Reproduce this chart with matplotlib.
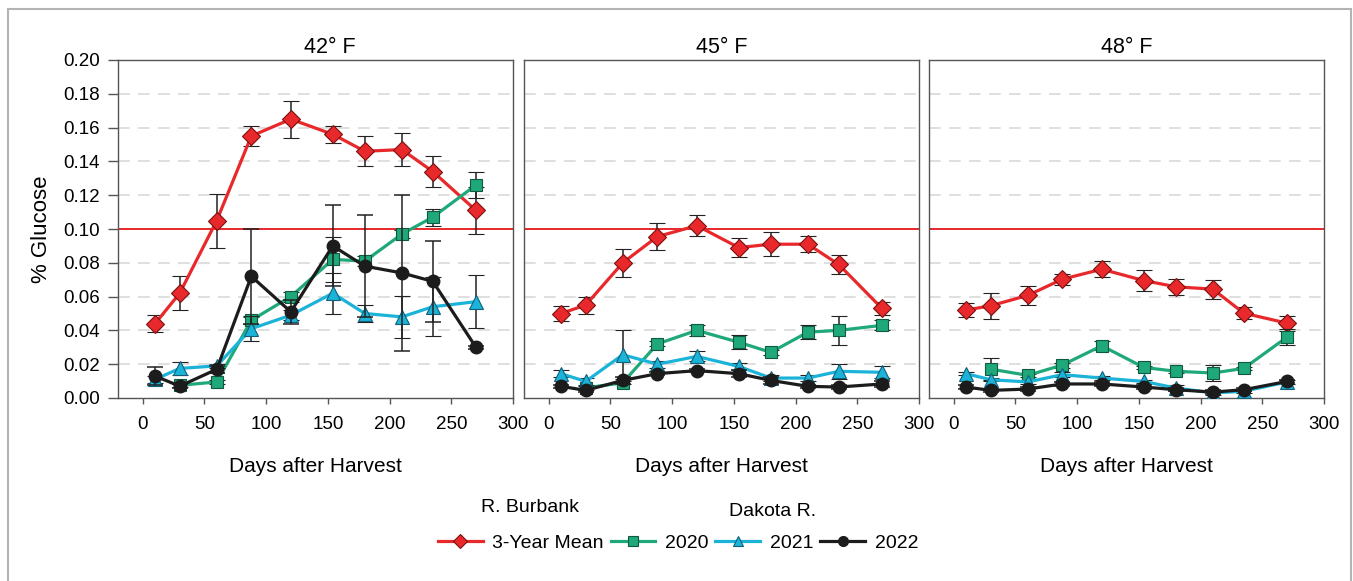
import matplotlib.pyplot as plt
from matplotlib.lines import Line2D
from matplotlib.patches import Rectangle

plt.rcParams['font.family'] = ['Liberation Sans', 'DejaVu Sans']

# Days after harvest (2020 has no day-10 sample)
days = [10, 30, 60, 88, 120, 154, 180, 210, 235, 270]
days_2020 = [30, 60, 88, 120, 154, 180, 210, 235, 270]

temps = ['42° F', '45° F', '48° F']

# 42 F
mean_42 = [0.044, 0.062, 0.105, 0.155, 0.165, 0.156, 0.146, 0.147, 0.134, 0.111]
mean_42_err = [0.005, 0.010, 0.016, 0.006, 0.011, 0.005, 0.009, 0.010, 0.009, 0.014]
y2020_42 = [0.0075, 0.0095, 0.046, 0.060, 0.082, 0.081, 0.097, 0.107, 0.126]
y2020_42_err = [0.001, 0.001, 0.002, 0.003, 0.0135, 0.003, 0.0025, 0.005, 0.0075]
y2021_42 = [0.011, 0.0175, 0.019, 0.041, 0.049, 0.062, 0.050, 0.048, 0.054, 0.057]
y2021_42_err = [0.002, 0.004, 0.001, 0.0075, 0.003, 0.012, 0.005, 0.0125, 0.0175, 0.0155]
y2022_42 = [0.013, 0.007, 0.017, 0.072, 0.051, 0.090, 0.078, 0.074, 0.069, 0.030]
y2022_42_err = [0.0055, 0.001, 0.002, 0.028, 0.007, 0.024, 0.030, 0.046, 0.024, 0.001]

# 45 F
mean_45 = [0.050, 0.055, 0.080, 0.0955, 0.102, 0.089, 0.091, 0.091, 0.079, 0.053]
mean_45_err = [0.0045, 0.005, 0.0083, 0.008, 0.006, 0.0057, 0.007, 0.0047, 0.0054, 0.004]
y2020_45 = [0.006, 0.009, 0.032, 0.040, 0.033, 0.027, 0.039, 0.040, 0.043]
y2020_45_err = [0.001, 0.001, 0.0015, 0.0034, 0.0043, 0.0015, 0.0043, 0.0087, 0.003]
y2021_45 = [0.0144, 0.0098, 0.0256, 0.020, 0.0246, 0.0187, 0.0118, 0.0118, 0.0158, 0.0152]
y2021_45_err = [0.002, 0.002, 0.0144, 0.002, 0.003, 0.002, 0.002, 0.002, 0.0043, 0.0035]
y2022_45 = [0.0069, 0.0045, 0.0104, 0.0144, 0.0162, 0.0144, 0.0104, 0.0069, 0.0065, 0.0083]
y2022_45_err = [0.001, 0.001, 0.002, 0.001, 0.001, 0.002, 0.002, 0.001, 0.001, 0.002]

# 48 F
mean_48 = [0.052, 0.0546, 0.0607, 0.0703, 0.0762, 0.0695, 0.0658, 0.0644, 0.0502, 0.0443]
mean_48_err = [0.0043, 0.0078, 0.0057, 0.0033, 0.0047, 0.006, 0.0048, 0.0057, 0.0035, 0.0045]
y2020_48 = [0.0171, 0.0134, 0.0195, 0.0309, 0.0181, 0.0158, 0.0148, 0.0175, 0.036]
y2020_48_err = [0.0065, 0.001, 0.0015, 0.0027, 0.001, 0.001, 0.0045, 0.001, 0.0046]
y2021_48 = [0.0144, 0.0108, 0.0095, 0.0138, 0.0118, 0.0098, 0.0059, 0.003, 0.004, 0.0095]
y2021_48_err = [0.001, 0.001, 0.001, 0.0015, 0.001, 0.001, 0.0015, 0.001, 0.001, 0.001]
y2022_48 = [0.0065, 0.0045, 0.0053, 0.0083, 0.0083, 0.0065, 0.0049, 0.0035, 0.0049, 0.0098]
y2022_48_err = [0.001, 0.001, 0.001, 0.001, 0.001, 0.001, 0.001, 0.001, 0.001, 0.001]

panels = [
    (mean_42, mean_42_err, y2020_42, y2020_42_err, y2021_42, y2021_42_err, y2022_42, y2022_42_err),
    (mean_45, mean_45_err, y2020_45, y2020_45_err, y2021_45, y2021_45_err, y2022_45, y2022_45_err),
    (mean_48, mean_48_err, y2020_48, y2020_48_err, y2021_48, y2021_48_err, y2022_48, y2022_48_err),
]

red = '#e8282b'
green = '#1fa87a'
blue = '#1bb3d8'
black = '#1c1c1c'
spine_col = '#555555'

fig = plt.figure(figsize=(13.53, 5.81), dpi=100)
fig.patches.append(Rectangle((8 / 1353, -0.02), 1343 / 1353, 1.0 - 9 / 581 + 0.02,
                             transform=fig.transFigure, fill=False,
                             edgecolor='#b4b4b4', linewidth=1.5))

lefts = [118 / 1353, 524 / 1353, 929 / 1353]
width = 395 / 1353
bottom = 183 / 581
height = 338 / 581
title_x = [0.537, 0.5, 0.5]

for i, (m, me, g, ge, b, be, k, ke) in enumerate(panels):
    ax = fig.add_axes([lefts[i], bottom, width, height])
    ax.set_xlim(-20, 300)
    ax.set_ylim(0, 0.20)
    for yv in [0.02, 0.04, 0.06, 0.08, 0.12, 0.14, 0.16, 0.18]:
        ax.axhline(yv, color='#d9d9d9', linewidth=1.2, dashes=(7, 5), zorder=0)
    ax.axhline(0.10, color=red, linewidth=1.4, zorder=1)

    eb = dict(ecolor='#222222', elinewidth=1.1, capsize=6, capthick=1.1)
    ax.errorbar(days, m, yerr=me, color=red, lw=2.3, marker='D', ms=9.5,
                mfc=red, mec='#7a1010', mew=0.8, zorder=3, **eb)
    ax.errorbar(days_2020, g, yerr=ge, color=green, lw=2.3, marker='s', ms=9,
                mfc=green, mec='#0f5a3f', mew=0.8, zorder=4, **eb)
    ax.errorbar(days, b, yerr=be, color=blue, lw=2.3, marker='^', ms=9.5,
                mfc=blue, mec='#10607a', mew=0.8, zorder=5, **eb)
    ax.errorbar(days, k, yerr=ke, color=black, lw=2.3, marker='o', ms=9,
                mfc=black, mec=black, zorder=6, **eb)

    for s in ax.spines.values():
        s.set_color(spine_col)
        s.set_linewidth(1.0)
    ax.set_xticks([0, 50, 100, 150, 200, 250, 300])
    ax.tick_params(axis='x', direction='out', length=4, width=1, color=spine_col,
                   labelsize=13.5, pad=9)
    if i == 0:
        ax.set_yticks([0.0, 0.02, 0.04, 0.06, 0.08, 0.10, 0.12, 0.14, 0.16, 0.18, 0.20])
        ax.set_yticklabels(['%.2f' % v for v in ax.get_yticks()])
        ax.tick_params(axis='y', direction='out', length=7, width=1, color=spine_col,
                       labelsize=13.5, pad=6)
        ax.set_ylabel('% Glucose', fontsize=16, labelpad=8)
    else:
        ax.set_yticks([])
    ax.set_title(temps[i], fontsize=15.5, pad=5, x=title_x[i])
    ax.set_xlabel('Days after Harvest', fontsize=15, labelpad=17)

handles = [
    Line2D([], [], color=red, lw=2.3, marker='D', ms=7, mfc=red, mec='#7a1010', mew=0.8),
    Line2D([], [], color=green, lw=2.3, marker='s', ms=7, mfc=green, mec='#0f5a3f', mew=0.8),
    Line2D([], [], color=blue, lw=2.3, marker='^', ms=7, mfc=blue, mec='#10607a', mew=0.8),
    Line2D([], [], color=black, lw=2.3, marker='o', ms=7, mfc=black, mec=black),
]
labels = ['3-Year Mean', '2020', '2021', '2022']
fig.legend(handles, labels, loc='center', bbox_to_anchor=(678 / 1353, 1 - 543 / 581),
           ncol=4, frameon=False, fontsize=14, handlelength=2.3, handletextpad=0.5,
           columnspacing=0.35)
fig.text(530 / 1353, 1 - 508 / 581, 'R. Burbank', fontsize=14, ha='center', va='center')
fig.text(773 / 1353, 1 - 512 / 581, 'Dakota R.', fontsize=14, ha='center', va='center')

fig.savefig('out.png', dpi=100)
